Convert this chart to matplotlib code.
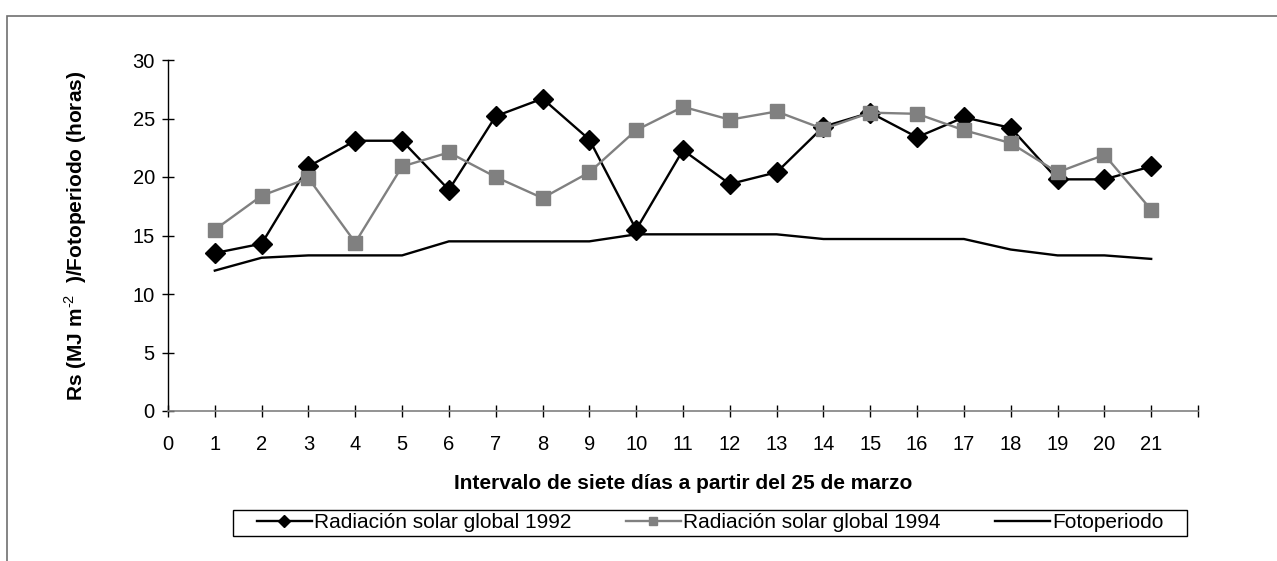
import numpy as np
import matplotlib.pyplot as plt
from matplotlib.patches import Rectangle

plt.rcParams['font.family'] = ['Liberation Sans', 'DejaVu Sans']
plt.rcParams['mathtext.fontset'] = 'custom'
plt.rcParams['mathtext.rm'] = 'Liberation Sans'
plt.rcParams['mathtext.bf'] = 'Liberation Sans:bold'

# intervalos de siete dias
intervalo = np.arange(1, 22)
rad_1992 = [13.5, 14.3, 20.9, 23.1, 23.1, 18.9, 25.2, 26.7, 23.2, 15.5, 22.3,
            19.4, 20.4, 24.3, 25.5, 23.4, 25.1, 24.2, 19.8, 19.8, 20.9]
rad_1994 = [15.5, 18.4, 19.9, 14.4, 20.9, 22.1, 20.0, 18.2, 20.4, 24.0, 26.0,
            24.9, 25.6, 24.1, 25.5, 25.4, 24.0, 22.9, 20.4, 21.9, 17.2]
fotoperiodo = [12.0, 13.1, 13.3, 13.3, 13.3, 14.5, 14.5, 14.5, 14.5, 15.1, 15.1,
               15.1, 15.1, 14.7, 14.7, 14.7, 14.7, 13.8, 13.3, 13.3, 13.0]

xtick_labels = [str(i) for i in range(22)] + ['']
yticks = [0, 5, 10, 15, 20, 25, 30]

fig = plt.figure(figsize=(12.77, 5.61), dpi=100)
ax = fig.add_axes([168/1277, 1-411/561, (1198-168)/1277, (411-60)/561])

ax.plot(intervalo, rad_1992, color='black', lw=1.7, marker='D', markersize=10.5,
        label='Radiación solar global 1992')
ax.plot(intervalo, rad_1994, color='#808080', lw=1.7, marker='s', markersize=10,
        label='Radiación solar global 1994')
ax.plot(intervalo, fotoperiodo, color='black', lw=1.7, label='Fotoperiodo')

ax.set_xlim(0, 22)
ax.set_ylim(0, 30)
ax.set_xticks(range(23))
ax.set_xticklabels(xtick_labels)
ax.set_yticks(yticks)

ax.spines['top'].set_visible(False)
ax.spines['right'].set_visible(False)
ax.spines['bottom'].set_color('#808080')
ax.spines['bottom'].set_linewidth(1.2)
ax.spines['left'].set_linewidth(1.0)

ax.tick_params(axis='y', direction='inout', length=9, width=1, labelsize=14.5, pad=5)
ax.tick_params(axis='x', direction='inout', length=9, width=1, labelsize=14.5, pad=13)

ax.set_xlabel('Intervalo de siete días a partir del 25 de marzo',
              fontsize=15, fontweight='bold', labelpad=14)
ax.set_ylabel('Rs (MJ m$^{\\text{-2}}$  )/Fotoperiodo (horas)',
              fontsize=15, fontweight='bold', labelpad=31)

# legend box drawn by hand, Excel style
fig.add_artist(Rectangle((233/1277, 1-536/561), (1187-233)/1277, 26/561,
                         transform=fig.transFigure, fill=False,
                         edgecolor='black', lw=1.0))
leg = fig.legend(loc='center', bbox_to_anchor=((233+1187)/2/1277, 1-523/561),
                 ncol=3, fontsize=15, frameon=False, markerscale=0.6,
                 handlelength=2.65, handletextpad=0.1,
                 columnspacing=2.6, borderpad=0.2)

fig.add_artist(Rectangle((7/1277, -0.1), 1.2, 1-16/561+0.1,
                         transform=fig.transFigure, fill=False,
                         edgecolor='#707070', lw=1.2))

fig.savefig('out.png', dpi=100)
